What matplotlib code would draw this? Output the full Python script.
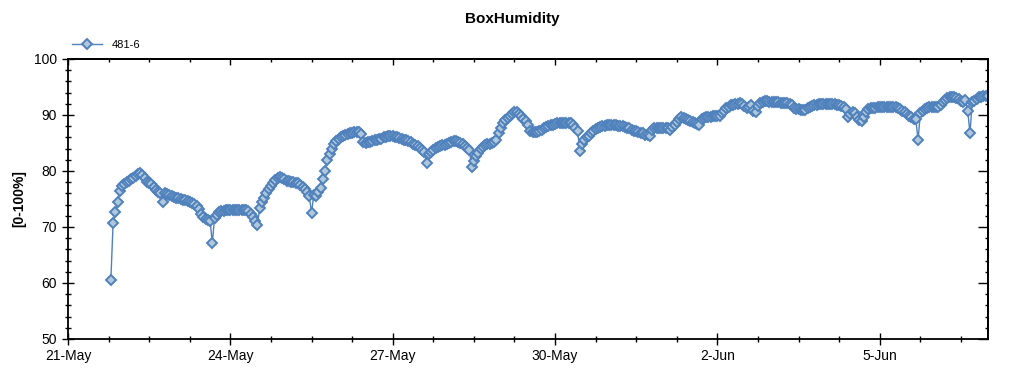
import pandas as pd
import matplotlib
matplotlib.use("Agg")
import matplotlib.pyplot as plt
import matplotlib.dates as mdates
from matplotlib.ticker import FixedLocator, MultipleLocator, NullFormatter

# === hourly BoxHumidity readings, sensor 481-6 (first reading 21-May 19:00) ===
may21 = [60.5, 70.7, 72.6, 74.5, 76.5]
may22 = [77.3, 77.7, 78.0, 78.2, 78.5, 78.8, 79.1, 79.4, 79.6, 79.3, 78.8, 78.1,
         77.8, 77.6, 77.1, 76.6, 76.3, 76.1, 74.4, 76.1, 75.9, 75.7, 75.5, 75.3]
may23 = [75.2, 75.1, 75.0, 74.9, 74.8, 74.7, 74.5, 74.3, 74.1, 73.7, 73.2, 72.3,
         71.7, 71.4, 71.2, 71.1, 67.2, 71.6, 72.2, 72.6, 72.8, 72.9, 73.0, 73.0]
may24 = [73.0, 73.0, 73.1, 73.1, 73.1, 73.1, 73.1, 73.0, 72.8, 72.4, 71.7, 71.0,
         70.4, 73.4, 74.4, 75.2, 76.0, 76.7, 77.3, 77.9, 78.4, 78.8, 78.9, 78.7]
may25 = [78.5, 78.3, 78.2, 78.1, 78.0, 77.9, 77.8, 77.5, 77.1, 76.8, 76.2, 75.6,
         72.5, 75.8, 75.5, 76.2, 77.0, 78.5, 80.0, 81.9, 83.0, 84.0, 84.8, 85.4]
may26 = [85.8, 86.1, 86.3, 86.5, 86.6, 86.7, 86.8, 86.9, 87.0, 86.9, 86.6, 85.1,
         85.0, 85.1, 85.2, 85.3, 85.5, 85.6, 85.7, 85.8, 86.0, 86.1, 86.2, 86.2]
may27 = [86.2, 86.1, 86.0, 85.9, 85.8, 85.6, 85.5, 85.3, 85.1, 84.9, 84.6, 84.4,
         84.1, 83.8, 83.4, 81.5, 83.1, 83.4, 83.8, 84.1, 84.3, 84.5, 84.6, 84.7]
may28 = [84.8, 85.0, 85.2, 85.3, 85.3, 85.2, 85.0, 84.8, 84.5, 84.1, 83.8, 80.8,
         81.8, 82.6, 83.3, 83.9, 84.3, 84.6, 84.8, 84.9, 85.0, 85.1, 85.6, 86.8]
may29 = [87.7, 88.5, 89.1, 89.5, 89.9, 90.2, 90.5, 90.5, 90.2, 89.8, 89.3, 88.9,
         88.2, 87.1, 87.0, 86.9, 87.0, 87.2, 87.4, 87.6, 87.8, 88.0, 88.2, 88.3]
may30 = [88.4, 88.5, 88.5, 88.6, 88.6, 88.6, 88.6, 88.5, 88.3, 87.6, 87.1, 83.5,
         84.8, 85.5, 86.0, 86.3, 86.8, 87.2, 87.5, 87.7, 87.9, 88.0, 88.1, 88.2]
may31 = [88.3, 88.3, 88.2, 88.2, 88.1, 88.0, 88.0, 87.8, 87.7, 87.6, 87.4, 87.2,
         87.1, 87.0, 86.8, 86.7, 86.5, 86.4, 86.2, 87.3, 87.6, 87.7, 87.7, 87.7]
jun1 = [87.7, 87.7, 87.6, 87.4, 87.8, 88.3, 88.8, 89.3, 89.7, 89.5, 89.3, 89.1,
        88.9, 88.7, 88.6, 88.4, 88.3, 89.2, 89.5, 89.6, 89.7, 89.7, 89.8, 89.8]
jun2 = [89.9, 89.9, 90.3, 90.8, 91.2, 91.5, 91.7, 91.8, 91.9, 92.0, 92.1, 91.9,
        91.6, 91.3, 91.5, 91.7, 90.8, 90.6, 91.6, 92.2, 92.4, 92.5, 92.5, 92.4]
jun3 = [92.4, 92.4, 92.3, 92.3, 92.2, 92.2, 92.1, 92.1, 92.0, 91.7, 91.3, 91.1,
        91.0, 90.9, 90.9, 90.9, 91.2, 91.4, 91.6, 91.7, 91.8, 91.9, 91.9, 92.0]
jun4 = [92.0, 92.0, 92.0, 91.9, 91.9, 91.8, 91.7, 91.6, 91.4, 91.0, 89.6, 90.2,
        90.5, 90.3, 89.6, 89.1, 88.9, 89.7, 90.6, 91.0, 91.2, 91.3, 91.3, 91.4]
jun5 = [91.4, 91.4, 91.5, 91.5, 91.5, 91.5, 91.5, 91.4, 91.3, 91.1, 90.8, 90.5,
        90.2, 89.9, 89.6, 89.3, 89.2, 85.5, 90.4, 90.8, 91.1, 91.3, 91.4, 91.4]
jun6 = [91.4, 91.5, 91.5, 91.8, 92.3, 92.7, 93.0, 93.2, 93.3, 93.3, 93.1, 92.8,
        92.5, 92.4, 92.6, 90.8, 86.7, 92.3, 92.5, 92.9, 93.2, 93.3, 93.4, 93.4]
jun7 = [93.4]

humidity = (may21 + may22 + may23 + may24 + may25 + may26 + may27 + may28 +
            may29 + may30 + may31 + jun1 + jun2 + jun3 + jun4 + jun5 + jun6 + jun7)
times = pd.date_range("2020-05-21 19:00", periods=len(humidity), freq="h")

x_start, x_end = pd.Timestamp("2020-05-21"), pd.Timestamp("2020-06-07")
major_days = pd.date_range(x_start, x_end, freq="3D")
minor_days = pd.date_range(x_start, x_end, freq="18h")

# === plot ===
plt.rcParams["font.family"] = ["Liberation Sans", "DejaVu Sans"]
fig = plt.figure(figsize=(10.24, 3.75), dpi=100)
ax = fig.add_axes([68 / 1024, 36 / 375, 920 / 1024, 280 / 375])

ax.plot(times, humidity, color="#4f81bd", lw=1, marker="D", ms=4.8,
        mfc="#b0c6da", mec="#4f81bd", mew=1.4, label="481-6")

ax.set_xlim(x_start, x_end)
ax.set_ylim(50, 100)
ax.yaxis.set_major_locator(MultipleLocator(10))
ax.yaxis.set_minor_locator(MultipleLocator(2))
ax.xaxis.set_major_locator(FixedLocator(mdates.date2num(major_days)))
ax.xaxis.set_minor_locator(FixedLocator(mdates.date2num(minor_days)))
ax.xaxis.set_major_formatter(mdates.DateFormatter("%-d-%b"))

ax.tick_params(which="major", direction="inout", length=8, width=1, labelsize=10)
ax.tick_params(which="minor", direction="inout", length=4.5, width=1)
ax.tick_params(axis="y", which="major", pad=4)
ax.tick_params(axis="x", which="major", pad=3)
for s in ax.spines.values():
    s.set_linewidth(1.3)

# inward ticks on right and top
sec_y = ax.secondary_yaxis("right")
sec_y.yaxis.set_major_locator(MultipleLocator(10))
sec_y.yaxis.set_minor_locator(MultipleLocator(2))
sec_y.yaxis.set_major_formatter(NullFormatter())
sec_y.tick_params(which="major", direction="in", length=7, width=1)
sec_y.tick_params(which="minor", direction="in", length=2.5, width=1)
sec_y.spines["right"].set_linewidth(1.3)

sec_x = ax.secondary_xaxis("top")
sec_x.xaxis.set_major_locator(FixedLocator(mdates.date2num(major_days)))
sec_x.xaxis.set_minor_locator(FixedLocator(mdates.date2num(minor_days)))
sec_x.xaxis.set_major_formatter(NullFormatter())
sec_x.tick_params(which="major", direction="in", length=4.5, width=1)
sec_x.tick_params(which="minor", direction="in", length=2.5, width=1)
sec_x.spines["top"].set_linewidth(1.3)

fig.text(0.5, 1 - 19 / 375, "BoxHumidity", ha="center", va="center",
         fontsize=11, fontweight="bold")
fig.text(19 / 1024, 1 - 199 / 375, "[0-100%]", ha="center", va="center",
         rotation=90, fontsize=10, fontweight="bold")

ax.legend(loc="center left", bbox_to_anchor=(72 / 1024, 1 - 45 / 375),
          bbox_transform=fig.transFigure, frameon=False, borderpad=0,
          borderaxespad=0, handlelength=2.7, handletextpad=0.9, fontsize=8)

fig.savefig("out.png", dpi=100)
